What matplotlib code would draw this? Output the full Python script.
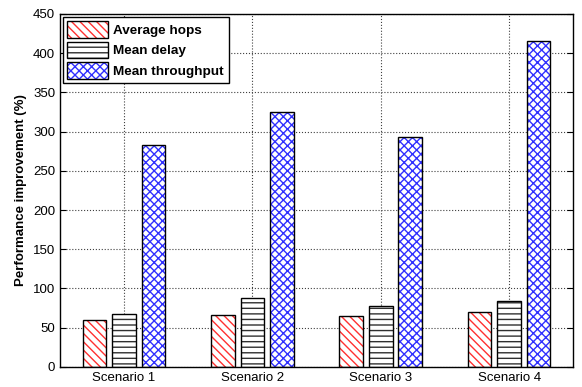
import numpy as np
import matplotlib
matplotlib.use('Agg')
import matplotlib.pyplot as plt
from matplotlib.patches import Patch

plt.rcParams['font.family'] = ['Liberation Sans', 'DejaVu Sans']
plt.rcParams['hatch.linewidth'] = 1.0

scenarios = ['Scenario 1', 'Scenario 2', 'Scenario 3', 'Scenario 4']
avg_hops = [60, 66, 65, 70]
mean_delay = [68, 88, 78, 84]
mean_throughput = [283, 325, 293, 415]

series = [
    ('Average hops', avg_hops, '\\\\\\\\', '#ff3030'),
    ('Mean delay', mean_delay, '---', '#303030'),
    ('Mean throughput', mean_throughput, 'xxxx', '#3030ff'),
]

fig = plt.figure(figsize=(5.82, 3.87), dpi=100)
ax = fig.add_axes([0.103, 0.052, 0.882, 0.912])

x = np.arange(1, len(scenarios) + 1)
width = 0.185
offset = 0.23
handles = []
for i, (name, vals, hatch, col) in enumerate(series):
    pos = x + (i - 1) * offset
    # hatch pass in colour, then a black outline on top
    ax.bar(pos, vals, width, color='white', edgecolor=col, hatch=hatch, linewidth=0, zorder=2)
    ax.bar(pos, vals, width, fill=False, edgecolor='black', linewidth=1.0, zorder=3)
    handles.append((Patch(facecolor='white', edgecolor=col, hatch=hatch, linewidth=0),
                    Patch(fill=False, edgecolor='black', linewidth=1.0)))

ax.set_xlim(0.5, 4.5)
ax.set_ylim(0, 450)
ax.set_yticks(np.arange(0, 451, 50))
ax.set_xticks(x)
ax.set_xticklabels(scenarios)
ax.grid(True, linestyle=':', color='#404040', linewidth=0.8, zorder=0)
ax.set_axisbelow(True)
ax.tick_params(direction='in', top=True, right=True, length=4, labelsize=9.5)
ax.tick_params(axis='x', top=False)
ax.set_ylabel('Performance improvement (%)', fontsize=9.5, fontweight='bold')
for s in ax.spines.values():
    s.set_linewidth(1.0)

leg = ax.legend(handles, [s[0] for s in series], loc='upper left', fancybox=False,
                edgecolor='black', framealpha=1, prop={'weight': 'bold', 'size': 9.7},
                handlelength=3.0, handleheight=1.5, borderaxespad=0.2,
                labelspacing=0.3, handletextpad=0.4, borderpad=0.35)
leg.get_frame().set_linewidth(1.0)

fig.savefig('out.png', dpi=100)
